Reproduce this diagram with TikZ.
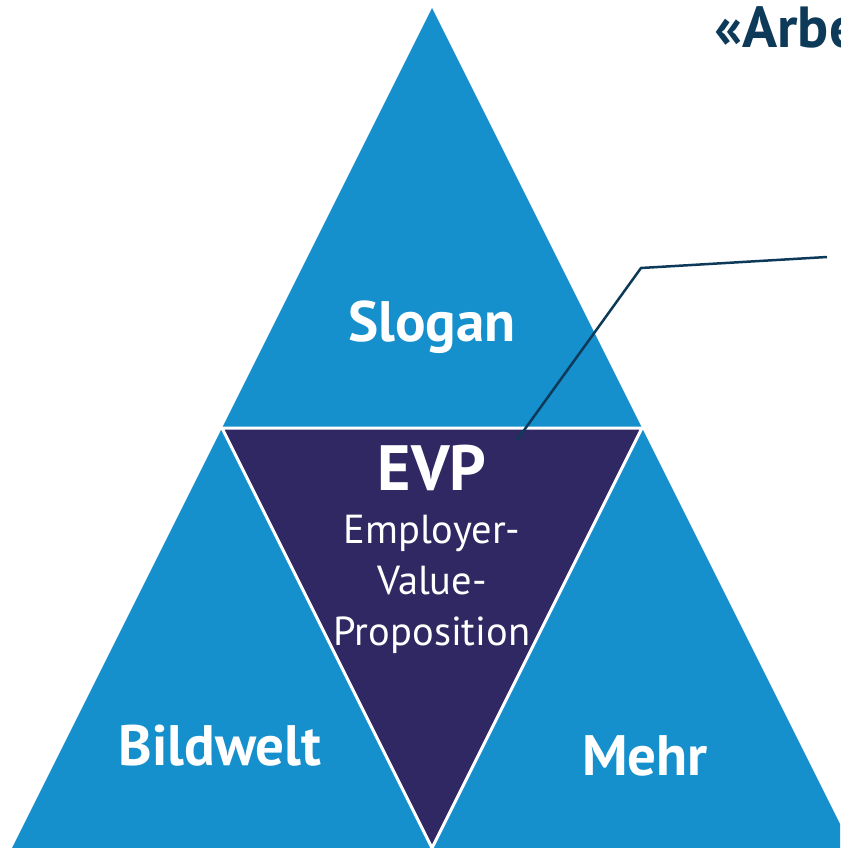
\documentclass[tikz,border=0pt]{standalone}
\usepackage{fontspec}
\setmainfont{PT Sans}
\definecolor{evpblau}{HTML}{1690CD}
\definecolor{evplila}{HTML}{302862}
\definecolor{evpnavy}{HTML}{0E3A5A}

\begin{document}
\begin{tikzpicture}[x=1pt,y=-1pt,
	feld/.style={text=white,font=\bfseries\fontsize{57}{60}\selectfont,inner sep=0pt,anchor=base}]
	\useasboundingbox (0,0) rectangle (840,848);
	\clip (0,0) rectangle (840,848);
	
	%Dreiecke
	\fill[evpblau] (432,8) -- (12,848) -- (852,848) -- cycle;
	\filldraw[fill=evplila,draw=white,line width=3pt,line join=miter] (222,428) -- (642,428) -- (432,848) -- cycle;
	
	%Beschriftung
	\node[feld] (slogan) at (432,341) {Slogan};
	\node[feld] (bildwelt) at (220,765) {Bildwelt};
	\node[feld] (mehr) at (645,775) {Mehr};
	\node[feld,font=\bfseries\fontsize{64}{66}\selectfont] (evp) at (432,490) {EVP};
	\node[text=white,font=\fontsize{40.5}{51}\selectfont,align=center,inner sep=0pt,anchor=base] (evptext) at (432,645) {Employer-\\Value-\\Proposition};
	
	%Titel
	\node[text=evpnavy,font=\bfseries\fontsize{58}{60}\selectfont,inner sep=0pt,anchor=base west] (titel) at (714,48) {«Arbe};
	
	%Zeiger
	\coordinate (zeiger) at (517,440);
	\coordinate (knick) at (641,268);
	\coordinate (ende) at (827,257);
	\draw[evpnavy,line width=2.5pt] (zeiger) -- (knick) -- (ende);
	
\end{tikzpicture}
\end{document}
